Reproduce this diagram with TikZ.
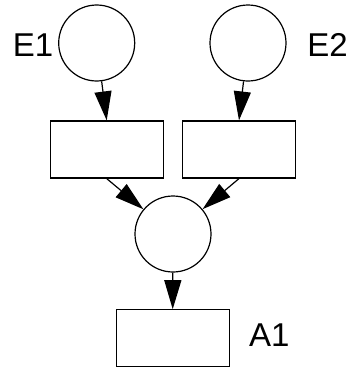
\documentclass[tikz,border=0pt]{standalone}
\usepackage{fontspec}
\setmainfont{Liberation Sans}
\usetikzlibrary{arrows.meta,positioning}

\begin{document}
\begin{tikzpicture}[x=1pt,y=1pt,line width=1.2pt,
  place/.style={draw,circle,minimum size=76pt,inner sep=0pt},
  trans/.style={draw,rectangle,minimum width=113pt,minimum height=57pt,inner sep=0pt},
  lbl/.style={inner sep=0pt,font=\fontsize{33}{36}\selectfont},
  arr/.style={-{Triangle[length=29pt,width=17pt]}}]
\useasboundingbox (0,0) rectangle (358,-370);
\node[place] (e1) at (96.7,-43) {};
\node[place] (e2) at (248,-43) {};
\node[trans] (t1) at (106.7,-149.5) {};
\node[trans] (t2) at (239,-149.5) {};
\node[place] (p) at (173,-234) {};
\node[trans] (a1) at (172.7,-338.3) {};
\node[lbl] (e1l) at (33,-45) {E1};
\node[lbl] (e2l) at (327.5,-45) {E2};
\node[lbl] (a1l) at (269.3,-335) {A1};
\draw[arr] (e1) -- (t1.north);
\draw[arr] (e2) -- (t2.north);
\draw[arr] (t1.south) -- (p);
\draw[arr] (t2.south) -- (p);
\draw[arr] (p) -- (a1.north);
\end{tikzpicture}
\end{document}
